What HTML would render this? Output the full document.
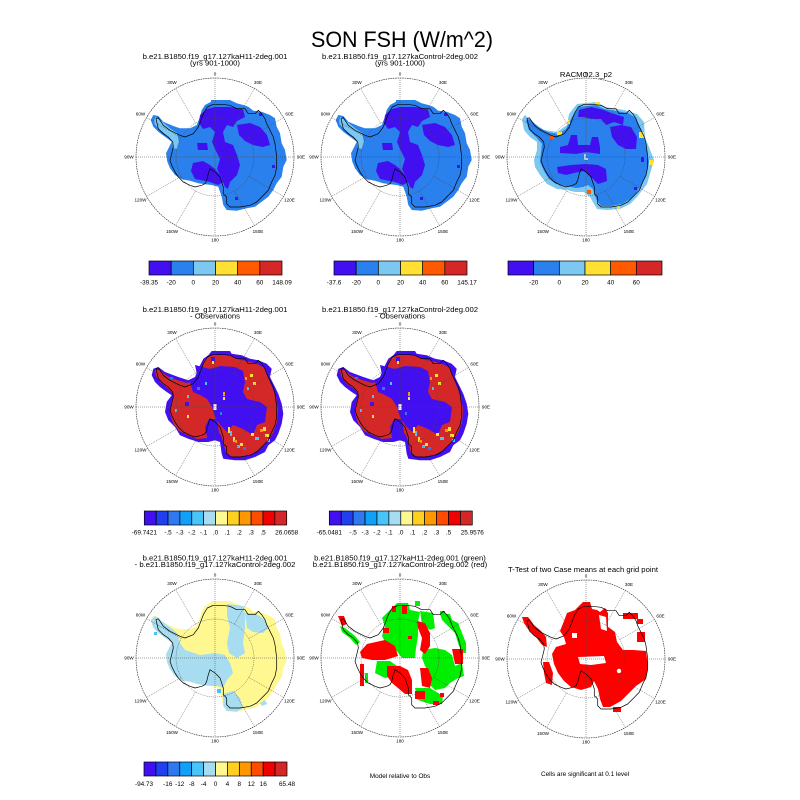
<!DOCTYPE html>
<html><head><meta charset="utf-8"><style>
html,body{margin:0;padding:0;background:#fff;}
svg{display:block;}
.t{font-family:"Liberation Sans",Arial,sans-serif;fill:#000;}
.ll{font-family:"Liberation Sans",Arial,sans-serif;font-size:4.6px;text-anchor:middle;fill:#000;}
.cb{font-family:"Liberation Sans",Arial,sans-serif;font-size:6.4px;text-anchor:middle;fill:#000;}
.st{font-family:"Liberation Sans",Arial,sans-serif;font-size:7.7px;text-anchor:middle;fill:#000;}
</style></head><body>
<svg width="800" height="800" viewBox="0 0 800 800" xmlns="http://www.w3.org/2000/svg" xmlns:xlink="http://www.w3.org/1999/xlink">
<rect width="800" height="800" fill="#fff"/>
<defs>
<polygon id="E" points="-4,-57 15,-57 21.7,-53.7 28.3,-52 33.3,-50.3 38.3,-46.3 46.7,-45.3 55,-42 60,-38.7 61.7,-30.3 65,-23.7 66.7,-13.7 70,-7 71.7,3 68.3,9.7 66.7,19.7 61.7,26.3 58.3,33 53.3,39.7 46.7,44.7 40,49.7 31.7,51.3 21.7,53.7 11.7,53 8.3,48 6.7,39.7 3.3,29.7 -3.3,28 -10,27.3 -16.7,26.3 -25,23.7 -33.3,22.3 -40,18 -45,11.3 -47.7,4.7 -49,-3.7 -45.7,-10.3 -43.3,-15.3 -50,-20.3 -56.7,-25.3 -61.7,-30.3 -64.3,-37 -61.7,-42 -56.7,-41 -51.7,-35.3 -41.7,-31 -35,-28.7 -25,-28.7 -18.3,-32 -15,-40.3 -13.3,-47 -10,-52 -4,-55.3"/>
<polygon id="E2" points="-3.3,-56 15,-56 16.7,-53.3 26.7,-51.7 35,-48.3 43.3,-46.7 51.7,-43.3 56.7,-38.3 55,-30 60,-20 63.3,-13.3 66.7,-3.3 68.3,6.7 66.7,16.7 63.3,26.7 60,33.3 53.3,38.3 50,45 40,50 30,53.3 20,53.3 8.3,51.7 6.7,46.7 5,35 0,33.3 -6.7,35 -16.7,35 -26.7,31.7 -35,28.3 -40,20 -46.7,13.3 -50,5 -48.3,-5 -43.3,-11.7 -48.3,-15 -55,-20 -60,-25 -63.3,-31.7 -61.7,-38.3 -56.7,-40 -50,-35 -36.7,-30 -26.7,-26.7 -20,-30 -16.7,-38.3 -11.7,-48.3 -6.7,-51.7"/>
<polygon id="coast" fill="none" stroke="#000" stroke-width="0.7" stroke-linejoin="round" points="-7.7,-50 -1.7,-52.7 6.7,-52.7 15,-51.7 21.7,-48.3 30,-48.3 33.3,-43.3 40,-43.3 43.3,-46.7 46.7,-43.3 50,-38.3 51.7,-33.3 55,-26.7 58.3,-20 60,-13.3 61.7,0 61.7,10 60,18.3 56.7,25 53.3,33.3 46.7,40 41.7,45 35,48.3 25,50 15,50 11.7,46.7 11.7,40 8.3,36.7 8.3,30 5,20 0,15 -5,11.7 -6.7,16.7 -8.3,23.3 -10,26.7 -13.3,28.3 -20,30 -25,28.3 -31.7,25 -36.7,20 -40,15 -43.3,8.3 -45,3.3 -43.3,-3.3 -41.7,-10 -42.3,-15 -46.7,-20 -51.7,-23.3 -56.7,-28.3 -59,-38.3 -56.7,-39.3 -51.7,-31.7 -45,-26.7 -35,-21.7 -30,-20 -21.7,-23.3 -16.7,-30 -11.7,-43.3"/>
<g id="grid" fill="none" stroke="#444" stroke-width="0.5">
<g stroke-dasharray="1 1">
<line x1="0" y1="-79" x2="0" y2="79"/>
<line x1="-79" y1="0" x2="79" y2="0"/>
<line x1="19.5" y1="-33.8" x2="39.5" y2="-68.4"/>
<line x1="33.8" y1="-19.5" x2="68.4" y2="-39.5"/>
<line x1="33.8" y1="19.5" x2="68.4" y2="39.5"/>
<line x1="19.5" y1="33.8" x2="39.5" y2="68.4"/>
<line x1="-19.5" y1="33.8" x2="-39.5" y2="68.4"/>
<line x1="-33.8" y1="19.5" x2="-68.4" y2="39.5"/>
<line x1="-33.8" y1="-19.5" x2="-68.4" y2="-39.5"/>
<line x1="-19.5" y1="-33.8" x2="-39.5" y2="-68.4"/>
<circle r="39"/>
</g>
<circle r="79" stroke="#222" stroke-width="0.6" stroke-dasharray="1.6 0.8"/>
</g>
</defs>

<!-- Main title -->
<text class="t" x="402" y="47" font-size="22" text-anchor="middle" textLength="182" lengthAdjust="spacingAndGlyphs">SON FSH (W/m^2)</text>

<!-- ================= ROW 1 COL 1 ================= -->
<text class="st" x="215" y="59">b.e21.B1850.f19_g17.127kaH11-2deg.001</text>
<text class="st" x="215" y="65.5">(yrs 901-1000)</text>
<g transform="translate(215,157)">
<use href="#E" fill="#2a80ec"/>
<polygon fill="#7cc8f0" points="-60,-40 -55,-37 -50,-33 -44,-28 -38,-24 -36,-15 -38,-8 -42,-9 -44,-17 -50,-23 -57,-29 -61,-34"/>
<g fill="#4210f0">
<polygon points="-15,-42 -8,-48 0,-50 15,-50 28,-48 30,-40 22,-36 18,-30 12,-32 8,-25 0,-25 -5,-30 -12,-28 -16,-34"/>
<polygon points="0,-25 8,-25 10,-15 18,-12 22,-2 25,8 22,18 15,25 13,32 10,30 6,20 2,12 5,2 0,-8 -3,-15"/>
<polygon points="22,-32 35,-34 45,-30 52,-22 55,-12 48,-10 38,-12 30,-16 24,-22"/>
<polygon points="-22,6 -12,4 -5,8 0,12 5,18 8,25 3,28 -5,25 -10,24 -20,22 -24,14"/>
<polygon points="-18,-14 -8,-14 -7,-7 -17,-7"/>
<rect x="57" y="8" width="3" height="3"/><rect x="20" y="40" width="3" height="3"/><rect x="44" y="-44" width="3" height="3"/>
</g>
<use href="#coast"/>
<use href="#grid"/>
<g class="ll"><text x="0" y="-81.5">0</text><text x="43" y="-73">30E</text><text x="74.5" y="-41.5">60E</text><text x="86" y="1.6">90E</text><text x="74.5" y="44.6">120E</text><text x="43" y="76">150E</text><text x="0" y="84.6">180</text><text x="-43" y="76">150W</text><text x="-74.5" y="44.6">120W</text><text x="-86" y="1.6">90W</text><text x="-74.5" y="-41.5">60W</text><text x="-43" y="-73">30W</text></g>
</g>

<!-- ================= ROW 1 COL 2 ================= -->
<text class="st" x="400" y="59">b.e21.B1850.f19_g17.127kaControl-2deg.002</text>
<text class="st" x="400" y="65.5">(yrs 901-1000)</text>
<g transform="translate(400,157)">
<use href="#E" fill="#2a80ec"/>
<polygon fill="#7cc8f0" points="-60,-40 -55,-37 -50,-33 -44,-28 -38,-24 -36,-15 -38,-8 -42,-9 -44,-17 -50,-23 -57,-29 -61,-34"/>
<g fill="#4210f0">
<polygon points="-15,-42 -8,-48 0,-50 15,-50 28,-48 30,-40 22,-36 18,-30 12,-32 8,-25 0,-25 -5,-30 -12,-28 -16,-34"/>
<polygon points="0,-25 8,-25 10,-15 18,-12 22,-2 25,8 22,18 15,25 13,32 10,30 6,20 2,12 5,2 0,-8 -3,-15"/>
<polygon points="22,-32 35,-34 45,-30 52,-22 55,-12 48,-10 38,-12 30,-16 24,-22"/>
<polygon points="-22,6 -12,4 -5,8 0,12 5,18 8,25 3,28 -5,25 -10,24 -20,22 -24,14"/>
<polygon points="-18,-14 -8,-14 -7,-7 -17,-7"/>
<rect x="57" y="8" width="3" height="3"/><rect x="20" y="40" width="3" height="3"/><rect x="44" y="-44" width="3" height="3"/>
</g>
<use href="#coast"/>
<use href="#grid"/>
<g class="ll"><text x="0" y="-81.5">0</text><text x="43" y="-73">30E</text><text x="74.5" y="-41.5">60E</text><text x="86" y="1.6">90E</text><text x="74.5" y="44.6">120E</text><text x="43" y="76">150E</text><text x="0" y="84.6">180</text><text x="-43" y="76">150W</text><text x="-74.5" y="44.6">120W</text><text x="-86" y="1.6">90W</text><text x="-74.5" y="-41.5">60W</text><text x="-43" y="-73">30W</text></g>
</g>

<!-- ================= ROW 1 COL 3 (RACMO) ================= -->
<g transform="translate(586,157)">
<polygon fill="#7cc8f0" points="-9,-53 11,-55 19,-50 31,-48 38,-47 51,-43 58,-35 59,-20 63,-10 68,3 64,17 61,27 51,40 44,47 34,52 21,53 11,52 4,40 -2,35 -11,35 -19,33 -29,32 -39,27 -46,18 -51,10 -52,3 -49,-7 -49,-15 -56,-20 -62,-27 -64,-38 -61,-42 -56,-37 -42,-27 -29,-25 -19,-32 -17,-43"/>
<polygon fill="#2a80ec" points="-7,-50 10,-52 18,-48 30,-46 42,-44 50,-39 55,-28 58,-18 61,-8 63,5 60,18 56,27 50,36 44,42 36,47 25,49 15,49 10,42 7,32 2,28 -3,30 -10,31 -20,29 -30,27 -37,22 -42,14 -46,5 -45,-5 -44,-13 -50,-20 -57,-27 -60,-37 -56,-38 -48,-30 -38,-25 -28,-23 -20,-28 -14,-40"/>
<g fill="#4210f0">
<polygon points="-7,-47 5,-50 18,-47 25,-44 38,-40 37,-32 28,-35 20,-32 15,-38 5,-38 -2,-40 -8,-40"/>
<polygon points="24,-30 35,-32 45,-30 51,-20 50,-8 40,-8 32,-12 26,-20"/>
<polygon points="-26,-10 -18,-12 -15,-22 -9,-22 -8,-12 4,-12 6,-20 12,-20 14,-10 14,-3 0,-5 -10,-3 -26,-4"/>
<polygon points="-29,10 -15,8 0,7 12,8 20,12 21,24 12,27 5,20 -2,14 -12,16 -20,18 -28,16"/>
<rect x="55" y="0" width="3" height="5"/><rect x="48" y="30" width="3" height="3"/>
</g>
<g fill="#ffe033">
<rect x="9" y="-55" width="5" height="3"/><rect x="-18" y="-37" width="2" height="4"/><rect x="-29" y="-25" width="5" height="3"/><rect x="53" y="-25" width="5" height="6"/><rect x="63" y="3" width="4" height="5"/><rect x="31" y="48" width="3" height="4"/>
</g>
<g fill="#ff5a00"><rect x="-36" y="-22" width="4" height="4"/><rect x="1" y="33" width="4" height="4"/></g>
<path d="M-1,-3 L-1,2 L2,2" fill="none" stroke="#fff" stroke-width="1.3"/>
<use href="#coast"/>
<use href="#grid"/>
<g class="ll"><text x="0" y="-81.5">0</text><text x="43" y="-73">30E</text><text x="74.5" y="-41.5">60E</text><text x="86" y="1.6">90E</text><text x="74.5" y="44.6">120E</text><text x="43" y="76">150E</text><text x="0" y="84.6">180</text><text x="-43" y="76">150W</text><text x="-74.5" y="44.6">120W</text><text x="-86" y="1.6">90W</text><text x="-74.5" y="-41.5">60W</text><text x="-43" y="-73">30W</text></g>
</g>
<text class="st" x="586" y="77">RACMO2.3_p2</text>

<!-- ROW 1 colorbars -->
<g stroke="#000" stroke-width="0.7">
<rect x="149" y="261" width="22.17" height="14" fill="#4210f0"/>
<rect x="171.17" y="261" width="22.17" height="14" fill="#2a80ec"/>
<rect x="193.33" y="261" width="22.17" height="14" fill="#7cc8f0"/>
<rect x="215.5" y="261" width="22.17" height="14" fill="#ffe033"/>
<rect x="237.67" y="261" width="22.17" height="14" fill="#ff5a00"/>
<rect x="259.83" y="261" width="22.17" height="14" fill="#d42828"/>
<rect x="334" y="261" width="22.17" height="14" fill="#4210f0"/>
<rect x="356.17" y="261" width="22.17" height="14" fill="#2a80ec"/>
<rect x="378.33" y="261" width="22.17" height="14" fill="#7cc8f0"/>
<rect x="400.5" y="261" width="22.17" height="14" fill="#ffe033"/>
<rect x="422.67" y="261" width="22.17" height="14" fill="#ff5a00"/>
<rect x="444.83" y="261" width="22.17" height="14" fill="#d42828"/>
<rect x="508" y="261" width="25.67" height="14" fill="#4210f0"/>
<rect x="533.67" y="261" width="25.67" height="14" fill="#2a80ec"/>
<rect x="559.33" y="261" width="25.67" height="14" fill="#7cc8f0"/>
<rect x="585" y="261" width="25.67" height="14" fill="#ffe033"/>
<rect x="610.67" y="261" width="25.67" height="14" fill="#ff5a00"/>
<rect x="636.33" y="261" width="25.67" height="14" fill="#d42828"/>
</g>
<g class="cb">
<text x="149" y="284.3">-39.35</text><text x="171.2" y="284.3">-20</text><text x="193.3" y="284.3">0</text><text x="215.5" y="284.3">20</text><text x="237.7" y="284.3">40</text><text x="259.8" y="284.3">60</text><text x="282" y="284.3">148.09</text>
<text x="334" y="284.3">-37.6</text><text x="356.2" y="284.3">-20</text><text x="378.3" y="284.3">0</text><text x="400.5" y="284.3">20</text><text x="422.7" y="284.3">40</text><text x="444.8" y="284.3">60</text><text x="467" y="284.3">145.17</text>
<text x="533.7" y="284.3">-20</text><text x="559.3" y="284.3">0</text><text x="585" y="284.3">20</text><text x="610.7" y="284.3">40</text><text x="636.3" y="284.3">60</text>
</g>

<!-- ================= ROW 2 COL 1 ================= -->
<text class="st" x="215" y="312">b.e21.B1850.f19_g17.127kaH11-2deg.001</text>
<text class="st" x="215" y="318.5">- Observations</text>
<g transform="translate(215,407)">
<use href="#E2" fill="#4210f0"/>
<polygon fill="#d42828" points="-3,-52 14,-52 22,-48 32,-46 42,-43 50,-39 53,-30 57,-20 61,-10 63,3 62,15 58,26 52,35 45,42 37,47 27,49.5 17,49.5 11,46 9,38 6,28 0,22 -4,24 -8,31 -18,32 -28,28 -36,24 -42,16 -45,6 -44,-4 -41,-12 -46,-18 -54,-24 -59,-31 -60,-37 -56,-37 -48,-31 -38,-27 -28,-24 -21,-26 -15,-36 -10,-48"/>
<g fill="#4210f0">
<polygon points="-20,-42 -5,-38 5,-41 20,-40 28,-36 30,-25 28,-15 32,-8 45,-5 52,0 50,15 42,18 38,28 28,22 18,18 12,25 5,18 0,10 -3,0 -8,-8 -15,-12 -22,-15 -25,-25 -18,-32"/>
<polygon points="-6,12 2,12 4,25 0,32 -8,30 -10,20"/>
<rect x="-4" y="-50" width="4" height="5"/><rect x="-30" y="-5" width="4" height="4"/>
</g>
<g fill="#ffe033"><rect x="13" y="20" width="2" height="6"/><rect x="18" y="30" width="2" height="5"/><rect x="25" y="36" width="3" height="3"/><rect x="36" y="26" width="3" height="3"/><rect x="48" y="20" width="3" height="4"/><rect x="50" y="27" width="4" height="3"/><rect x="35" y="-33" width="3" height="3"/><rect x="38" y="-25" width="3" height="3"/><rect x="-28" y="8" width="2" height="3"/><rect x="8" y="-10" width="2" height="3"/><rect x="-3" y="-46" width="2" height="3"/></g>
<g fill="#48c4f8"><rect x="15" y="24" width="2" height="5"/><rect x="22" y="38" width="3" height="3"/><rect x="40" y="30" width="4" height="3"/><rect x="52" y="32" width="3" height="3"/><rect x="-40" y="2" width="2" height="3"/><rect x="-10" y="-25" width="2" height="3"/><rect x="32" y="-20" width="2" height="3"/><rect x="-28" y="-12" width="2" height="3"/></g>
<g fill="#ff9800"><rect x="30" y="-30" width="2" height="3"/><rect x="45" y="22" width="3" height="3"/><rect x="8" y="-15" width="2" height="4"/><rect x="20" y="33" width="2" height="3"/></g>
<g fill="#3078f0"><rect x="-18" y="-20" width="3" height="3"/><rect x="-45" y="-30" width="3" height="2"/><rect x="5" y="5" width="2" height="3"/><rect x="28" y="40" width="3" height="3"/></g>
<rect x="-1.5" y="-3" width="3" height="6" fill="#fff"/>
<use href="#coast"/>
<use href="#grid"/>
<g class="ll"><text x="0" y="-81.5">0</text><text x="43" y="-73">30E</text><text x="74.5" y="-41.5">60E</text><text x="86" y="1.6">90E</text><text x="74.5" y="44.6">120E</text><text x="43" y="76">150E</text><text x="0" y="84.6">180</text><text x="-43" y="76">150W</text><text x="-74.5" y="44.6">120W</text><text x="-86" y="1.6">90W</text><text x="-74.5" y="-41.5">60W</text><text x="-43" y="-73">30W</text></g>
</g>

<!-- ================= ROW 2 COL 2 ================= -->
<text class="st" x="400" y="312">b.e21.B1850.f19_g17.127kaControl-2deg.002</text>
<text class="st" x="400" y="318.5">- Observations</text>
<g transform="translate(400,407)">
<use href="#E2" fill="#4210f0"/>
<polygon fill="#d42828" points="-3,-52 14,-52 22,-48 32,-46 42,-43 50,-39 53,-30 57,-20 61,-10 63,3 62,15 58,26 52,35 45,42 37,47 27,49.5 17,49.5 11,46 9,38 6,28 0,22 -4,24 -8,31 -18,32 -28,28 -36,24 -42,16 -45,6 -44,-4 -41,-12 -46,-18 -54,-24 -59,-31 -60,-37 -56,-37 -48,-31 -38,-27 -28,-24 -21,-26 -15,-36 -10,-48"/>
<g fill="#4210f0">
<polygon points="-20,-42 -5,-38 5,-41 20,-40 28,-36 30,-25 28,-15 32,-8 45,-5 52,0 50,15 42,18 38,28 28,22 18,18 12,25 5,18 0,10 -3,0 -8,-8 -15,-12 -22,-15 -25,-25 -18,-32"/>
<polygon points="-6,12 2,12 4,25 0,32 -8,30 -10,20"/>
<rect x="-4" y="-50" width="4" height="5"/><rect x="-30" y="-5" width="4" height="4"/>
</g>
<g fill="#ffe033"><rect x="13" y="20" width="2" height="6"/><rect x="18" y="30" width="2" height="5"/><rect x="25" y="36" width="3" height="3"/><rect x="36" y="26" width="3" height="3"/><rect x="48" y="20" width="3" height="4"/><rect x="50" y="27" width="4" height="3"/><rect x="35" y="-33" width="3" height="3"/><rect x="38" y="-25" width="3" height="3"/><rect x="-28" y="8" width="2" height="3"/><rect x="8" y="-10" width="2" height="3"/><rect x="-3" y="-46" width="2" height="3"/></g>
<g fill="#48c4f8"><rect x="15" y="24" width="2" height="5"/><rect x="22" y="38" width="3" height="3"/><rect x="40" y="30" width="4" height="3"/><rect x="52" y="32" width="3" height="3"/><rect x="-40" y="2" width="2" height="3"/><rect x="-10" y="-25" width="2" height="3"/><rect x="32" y="-20" width="2" height="3"/><rect x="-28" y="-12" width="2" height="3"/></g>
<g fill="#ff9800"><rect x="30" y="-30" width="2" height="3"/><rect x="45" y="22" width="3" height="3"/><rect x="8" y="-15" width="2" height="4"/><rect x="20" y="33" width="2" height="3"/></g>
<g fill="#3078f0"><rect x="-18" y="-20" width="3" height="3"/><rect x="-45" y="-30" width="3" height="2"/><rect x="5" y="5" width="2" height="3"/><rect x="28" y="40" width="3" height="3"/></g>
<rect x="-1.5" y="-3" width="3" height="6" fill="#fff"/>
<use href="#coast"/>
<use href="#grid"/>
<g class="ll"><text x="0" y="-81.5">0</text><text x="43" y="-73">30E</text><text x="74.5" y="-41.5">60E</text><text x="86" y="1.6">90E</text><text x="74.5" y="44.6">120E</text><text x="43" y="76">150E</text><text x="0" y="84.6">180</text><text x="-43" y="76">150W</text><text x="-74.5" y="44.6">120W</text><text x="-86" y="1.6">90W</text><text x="-74.5" y="-41.5">60W</text><text x="-43" y="-73">30W</text></g>
</g>

<!-- ROW 2 colorbars -->
<g stroke="#000" stroke-width="0.7">
<rect x="144.3" y="511" width="11.87" height="14" fill="#4210f0"/>
<rect x="156.17" y="511" width="11.87" height="14" fill="#2040f0"/>
<rect x="168.03" y="511" width="11.87" height="14" fill="#3078f0"/>
<rect x="179.9" y="511" width="11.87" height="14" fill="#10a0f8"/>
<rect x="191.77" y="511" width="11.87" height="14" fill="#48c4f8"/>
<rect x="203.63" y="511" width="11.87" height="14" fill="#a8dcf0"/>
<rect x="215.5" y="511" width="11.87" height="14" fill="#fff890"/>
<rect x="227.37" y="511" width="11.87" height="14" fill="#ffd020"/>
<rect x="239.23" y="511" width="11.87" height="14" fill="#ff9800"/>
<rect x="251.1" y="511" width="11.87" height="14" fill="#ff4c00"/>
<rect x="262.97" y="511" width="11.87" height="14" fill="#f00000"/>
<rect x="274.83" y="511" width="11.87" height="14" fill="#d42828"/>
<rect x="329.3" y="511" width="11.92" height="14" fill="#4210f0"/>
<rect x="341.22" y="511" width="11.92" height="14" fill="#2040f0"/>
<rect x="353.13" y="511" width="11.92" height="14" fill="#3078f0"/>
<rect x="365.05" y="511" width="11.92" height="14" fill="#10a0f8"/>
<rect x="376.97" y="511" width="11.92" height="14" fill="#48c4f8"/>
<rect x="388.88" y="511" width="11.92" height="14" fill="#a8dcf0"/>
<rect x="400.8" y="511" width="11.92" height="14" fill="#fff890"/>
<rect x="412.72" y="511" width="11.92" height="14" fill="#ffd020"/>
<rect x="424.63" y="511" width="11.92" height="14" fill="#ff9800"/>
<rect x="436.55" y="511" width="11.92" height="14" fill="#ff4c00"/>
<rect x="448.47" y="511" width="11.92" height="14" fill="#f00000"/>
<rect x="460.38" y="511" width="11.92" height="14" fill="#d42828"/>
</g>
<g class="cb">
<text x="144.3" y="534.5">-69.7421</text><text x="168" y="534.5">-.5</text><text x="179.9" y="534.5">-.3</text><text x="191.8" y="534.5">-.2</text><text x="203.6" y="534.5">-.1</text><text x="215.5" y="534.5">.0</text><text x="227.4" y="534.5">.1</text><text x="239.2" y="534.5">.2</text><text x="251.1" y="534.5">.3</text><text x="263" y="534.5">.5</text><text x="286.7" y="534.5">26.0658</text>
<text x="329.3" y="534.5">-65.0481</text><text x="353.1" y="534.5">-.5</text><text x="365.1" y="534.5">-.3</text><text x="377" y="534.5">-.2</text><text x="388.9" y="534.5">-.1</text><text x="400.8" y="534.5">.0</text><text x="412.7" y="534.5">.1</text><text x="424.6" y="534.5">.2</text><text x="436.6" y="534.5">.3</text><text x="448.5" y="534.5">.5</text><text x="472.3" y="534.5">25.9576</text>
</g>

<!-- ================= ROW 3 COL 1 ================= -->
<text class="st" x="215" y="560.5">b.e21.B1850.f19_g17.127kaH11-2deg.001</text>
<text class="st" x="215" y="567">- b.e21.B1850.f19_g17.127kaControl-2deg.002</text>
<g transform="translate(215,658)">
<use href="#E" fill="#fff890"/>
<g fill="#a8dcf0">
<polygon points="-64,-38 -60,-42 -52,-36 -44,-30 -38,-25 -35,-15 -30,-8 -15,-3 0,-5 10,-3 15,5 18,15 12,22 8,30 3,28 -3,28 -10,27.3 -16.7,26.3 -25,23.7 -33.3,22.3 -40,18 -45,11.3 -47.7,4.7 -49,-3.7 -45.7,-10.3 -43.3,-15.3 -50,-20.3 -56.7,-25.3 -61.7,-30.3"/>
<polygon points="12,-54 28,-52 30,-45 30,-30 28,-15 30,-5 22,0 14,-5 12,-15 15,-30 12,-42"/>
<polygon points="30,-45 40,-45 50,-38 53,-30 48,-25 38,-26 32,-30"/>
<polygon points="8,36 18,33 25,40 28,50 21.7,53.7 11.7,53 8.3,48"/>
<polygon points="45,45 50,42 52,46 47,48"/>
</g>
<g fill="#48c4f8"><rect x="-61" y="-26" width="3" height="3"/><rect x="2" y="31" width="4" height="4"/></g>
<use href="#coast"/>
<use href="#grid"/>
<g class="ll"><text x="0" y="-81.5">0</text><text x="43" y="-73">30E</text><text x="74.5" y="-41.5">60E</text><text x="86" y="1.6">90E</text><text x="74.5" y="44.6">120E</text><text x="43" y="76">150E</text><text x="0" y="84.6">180</text><text x="-43" y="76">150W</text><text x="-74.5" y="44.6">120W</text><text x="-86" y="1.6">90W</text><text x="-74.5" y="-41.5">60W</text><text x="-43" y="-73">30W</text></g>
</g>

<!-- ================= ROW 3 COL 2 ================= -->
<text class="st" x="400" y="560.5">b.e21.B1850.f19_g17.127kaH11-2deg.001 (green)</text>
<text class="st" x="400" y="567">b.e21.B1850.f19_g17.127kaControl-2deg.002 (red)</text>
<g transform="translate(400,658)">
<g fill="#00ee00">
<polygon points="-3,-55 8,-55 10,-48 20,-46 18,-36 18,-22 16,-10 15,0 2,0 -4,-8 -13,-12 -18,-22 -15,-32 -18,-40 -10,-48"/>
<polygon points="20,-47 33,-45 35,-30 30,-28 22,-34"/>
<polygon points="40,-44 50,-44 52,-38 58,-35 62,-25 66,-15 66,-5 62,-5 58,-15 55,-25 48,-32 42,-38"/>
<polygon points="23,-8 35,-10 45,-8 52,-3 55,8 62,5 64,18 58,20 50,25 45,30 35,32 28,25 30,15 25,8 22,0"/>
<polygon points="-23,3 -10,3 -3,8 -5,18 -15,20 -25,15"/>
<polygon points="15,30 30,30 43,38 42,46 30,46 18,42"/>
<polygon points="-60,-32 -55,-30 -45,-22 -40,-16 -44,-13 -50,-20 -58,-26"/>
<rect x="-35" y="15" width="3" height="10"/><rect x="15" y="-57" width="5" height="5"/><rect x="40" y="-47" width="5" height="3"/>
</g>
<g fill="#ff0000">
<rect x="-8" y="-52" width="4" height="6"/><rect x="2" y="-52" width="5" height="8"/>
<polygon points="17,-37 25,-35 30,-25 30,-12 25,-4 20,-8 22,-20 18,-30"/>
<polygon points="52,-9 63,-9 63,6 55,6"/>
<polygon points="20,10 28,10 32,20 30,30 22,28"/>
<polygon points="-13,8 0,8 8,12 12,22 12,36 5,36 -2,30 -8,25 -13,18"/>
<polygon points="-33,-14 -15,-18 -5,-12 -2,-2 -15,2 -28,2 -38,0 -40,-6"/>
<rect x="15" y="33" width="10" height="8"/><rect x="33" y="43" width="6" height="4"/><rect x="40" y="35" width="4" height="4"/>
<polygon points="-62,-42 -56,-42 -53,-34 -58,-32"/>
<rect x="-40" y="6" width="4" height="22"/><rect x="-17" y="-30" width="6" height="5"/><rect x="8" y="-22" width="4" height="3"/>
</g>
<use href="#coast"/>
<use href="#grid"/>
<g class="ll"><text x="0" y="-81.5">0</text><text x="43" y="-73">30E</text><text x="74.5" y="-41.5">60E</text><text x="86" y="1.6">90E</text><text x="74.5" y="44.6">120E</text><text x="43" y="76">150E</text><text x="0" y="84.6">180</text><text x="-43" y="76">150W</text><text x="-74.5" y="44.6">120W</text><text x="-86" y="1.6">90W</text><text x="-74.5" y="-41.5">60W</text><text x="-43" y="-73">30W</text></g>
</g>

<!-- ================= ROW 3 COL 3 ================= -->
<text class="st" x="583" y="572">T-Test of two Case means at each grid point</text>
<g transform="translate(586,659)">
<g fill="#ff0000">
<polygon points="-19,-46 -11,-49 -3,-57 4,-57 6,-50 11,-49 14,-47 19,-51 22,-46 22,-32 29,-27 31,-17 37,-9 47,-9 60,-8 62,8 60,20 50,27 44,33 35,42 24,48 17,48 14,40 12,30 8,22 5,28 -5,31 -15,28 -22,22 -28,14 -32,5 -34,-5 -30,-12 -20,-15 -22,-22 -26,-28 -22,-38"/>
<rect x="37" y="-46" width="15" height="6"/><rect x="51" y="-40" width="6" height="5"/><rect x="51" y="-27" width="8" height="10"/>
<polygon points="-64,-42 -58,-42 -52,-34 -45,-28 -40,-22 -39,-12 -44,-14 -50,-22 -58,-30 -62,-36"/>
<polygon points="-43,3 -37,3 -33,14 -34,26 -40,24 -42,14"/>
<rect x="27" y="48" width="8" height="5"/>
</g>
<g fill="#fff">
<polygon points="-8,-2 18,-3 20,4 5,6 -6,5"/>
<polygon points="13,-44 20,-42 21,-28 15,-30"/>
<circle cx="33" cy="12" r="2.2"/>
<rect x="-14" y="-26" width="5" height="5"/>
</g>
<use href="#coast"/>
<use href="#grid"/>
<g class="ll"><text x="0" y="-81.5">0</text><text x="43" y="-73">30E</text><text x="74.5" y="-41.5">60E</text><text x="86" y="1.6">90E</text><text x="74.5" y="44.6">120E</text><text x="43" y="76">150E</text><text x="0" y="84.6">180</text><text x="-43" y="76">150W</text><text x="-74.5" y="44.6">120W</text><text x="-86" y="1.6">90W</text><text x="-74.5" y="-41.5">60W</text><text x="-43" y="-73">30W</text></g>
</g>

<!-- ROW 3 colorbar -->
<g stroke="#000" stroke-width="0.7">
<rect x="144" y="762" width="11.92" height="14" fill="#4210f0"/>
<rect x="155.92" y="762" width="11.92" height="14" fill="#2040f0"/>
<rect x="167.83" y="762" width="11.92" height="14" fill="#3078f0"/>
<rect x="179.75" y="762" width="11.92" height="14" fill="#10a0f8"/>
<rect x="191.67" y="762" width="11.92" height="14" fill="#48c4f8"/>
<rect x="203.58" y="762" width="11.92" height="14" fill="#a8dcf0"/>
<rect x="215.5" y="762" width="11.92" height="14" fill="#fff890"/>
<rect x="227.42" y="762" width="11.92" height="14" fill="#ffd020"/>
<rect x="239.33" y="762" width="11.92" height="14" fill="#ff9800"/>
<rect x="251.25" y="762" width="11.92" height="14" fill="#ff4c00"/>
<rect x="263.17" y="762" width="11.92" height="14" fill="#f00000"/>
<rect x="275.08" y="762" width="11.92" height="14" fill="#d42828"/>
</g>
<g class="cb">
<text x="144" y="786">-94.73</text><text x="167.8" y="786">-16</text><text x="179.75" y="786">-12</text><text x="191.7" y="786">-8</text><text x="203.6" y="786">-4</text><text x="215.5" y="786">0</text><text x="227.4" y="786">4</text><text x="239.3" y="786">8</text><text x="251.25" y="786">12</text><text x="263.2" y="786">16</text><text x="287" y="786">65.48</text>
<text x="400" y="778">Model relative to Obs</text>
<text x="585" y="776">Cells are significant at 0.1 level</text>
</g>
</svg>
</body></html>
